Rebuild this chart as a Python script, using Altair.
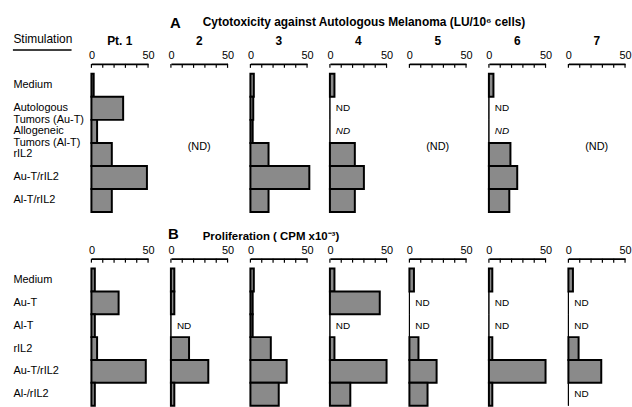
import altair as alt
import pandas as pd

patients = ["Pt. 1", "2", "3", "4", "5", "6", "7"]

# Panel A: cytotoxicity (LU/10^6 cells); None = not done
stim_a = ["Medium", "Autologous|Tumors (Au-T)", "Allogeneic|Tumors (Al-T)",
          "rIL2", "Au-T/rIL2", "Al-T/rIL2"]
cyto_pt1 = [2, 28, 5, 18, 49, 18]
cyto_pt2 = None
cyto_pt3 = [3, 2.5, 2, 16, 52, 16]
cyto_pt4 = [4, None, None, 22, 30, 22]
cyto_pt5 = None
cyto_pt6 = [4, None, None, 19, 25, 18]
cyto_pt7 = None

# Panel B: proliferation (CPM x10^-3)
stim_b = ["Medium", "Au-T", "Al-T", "rIL2", "Au-T/rIL2", "Al-/rIL2"]
prol_pt1 = [3, 24, 3, 5, 48, 3]
prol_pt2 = [3, 3, None, 16, 33, 3]
prol_pt3 = [3, 2, 2, 18, 32, 25]
prol_pt4 = [4, 44, None, 4, 50, 18]
prol_pt5 = [4, None, None, 8, 24, 16]
prol_pt6 = [3, None, None, 3, 50, 3]
prol_pt7 = [4, None, None, 9, 29, None]

axis_labels = [0, 20, 50]
axis_ticks = [0, 10, 20, 30, 40, 50]

title_a_letter = "A"
title_a_text = "Cytotoxicity against Autologous Melanoma (LU/10\u2076 cells)"
title_b_letter = "B"
title_b_text = "Proliferation ( CPM x10\u207b\u00b3)"

FONT = "Liberation Sans"


def build(stims, series, italic_row):
    rows = []
    for pt, vals in zip(patients, series):
        for t in axis_ticks:
            rows.append(dict(pt=pt, stim=stims[0], value=t, status="tick", italic=False))
        for i, s in enumerate(stims):
            if vals is None:
                rows.append(dict(pt=pt, stim=s, value=0, status="allnd", italic=False))
            else:
                v = vals[i]
                rows.append(dict(pt=pt, stim=s, value=0 if v is None else v,
                                 status="nd" if v is None else "ok",
                                 italic=(i == italic_row)))
    return pd.DataFrame(rows)


df_a = build(stim_a, [cyto_pt1, cyto_pt2, cyto_pt3, cyto_pt4, cyto_pt5, cyto_pt6, cyto_pt7], 2)
df_b = build(stim_b, [prol_pt1, prol_pt2, prol_pt3, prol_pt4, prol_pt5, prol_pt6, prol_pt7], -1)

xscale = alt.Scale(domain=[0, 50], nice=False, zero=True)
xaxis = alt.Axis(orient="top", values=axis_labels, title=None, grid=False, ticks=False,
                 labelOverlap=False, labelFontSize=11, labelFont=FONT, labelColor="black",
                 labelPadding=3, domainColor="black", domainWidth=1.6, labelFlush=False)


def panel(stims, ytitle):
    yscale = alt.Scale(domain=stims, paddingInner=0, paddingOuter=0.216, align=1)
    yaxis_kwargs = dict(orient="left", labelAlign="left", labelPadding=79, ticks=False,
                        tickSize=0, domain=False, labelFontSize=11, labelFont=FONT,
                        labelColor="black", labelExpr="split(datum.label, '|')",
                        labelLineHeight=12, labelBaseline="middle")
    if ytitle:
        yaxis = alt.Axis(title=ytitle, titleAngle=0, titleAlign="left", titleX=-79, titleY=-22,
                         titleFontSize=12, titleFontWeight="normal", titleFont=FONT,
                         titleColor="black", titleBaseline="alphabetic", **yaxis_kwargs)
    else:
        yaxis = alt.Axis(title=None, **yaxis_kwargs)
    x = alt.X("value:Q", scale=xscale, axis=xaxis)
    y = alt.Y("stim:N", scale=yscale, axis=yaxis, sort=stims)

    base = alt.Chart().encode(x=x, y=y)
    ticks = alt.Chart().mark_rule(stroke="black", strokeWidth=1.2).encode(
        x=x, y=alt.value(0), y2=alt.value(4)).transform_filter("datum.status == 'tick'")
    bars = base.mark_bar(fill="#8a8a8a", stroke="black", strokeWidth=2).transform_filter(
        "datum.status == 'ok'")
    ndline = base.mark_bar(fill="white", stroke="black", strokeWidth=1).transform_filter(
        "datum.status == 'nd'")
    nd_text = base.mark_text(text="ND", align="left", dx=6, fontSize=10, font=FONT,
                             color="black").transform_filter(
        "datum.status == 'nd' && !datum.italic")
    nd_text_it = base.mark_text(text="ND", align="left", dx=6, fontSize=10, font=FONT,
                                fontStyle="italic", color="black").transform_filter(
        "datum.status == 'nd' && datum.italic")
    all_nd = alt.Chart().mark_text(text="(ND)", fontSize=11, font=FONT, color="black",
                                   dy=-7).encode(
        x=alt.datum(25), y=y).transform_filter(
        "datum.status == 'allnd' && datum.stim == 'rIL2'")
    return [ticks, bars, ndline, nd_text, nd_text_it, all_nd]


def titles(letter, text, y_letter, y_text, letter_dx, size):
    sel = "datum.pt == '2' && datum.stim == 'Medium' && datum.status != 'tick'"
    t1 = alt.Chart().mark_text(text=letter, align="left", baseline="middle", fontSize=15,
                               fontWeight="bold", font=FONT, color="black").encode(
        x=alt.value(letter_dx), y=alt.value(y_letter)).transform_filter(sel)
    t2 = alt.Chart().mark_text(text=text, align="left", baseline="middle", fontSize=size,
                               fontWeight="bold", font=FONT, color="black").encode(
        x=alt.value(32), y=alt.value(y_text)).transform_filter(sel)
    return [t1, t2]


layers_a = panel(stim_a, "Stimulation")
underline = alt.Chart().mark_rule(stroke="black", strokeWidth=1.5).encode(
    x=alt.value(-79), x2=alt.value(-20), y=alt.value(-14)).transform_filter(
    "datum.pt == 'Pt. 1' && datum.stim == 'Medium' && datum.status != 'tick'")
layers_a.append(underline)
layers_a += titles(title_a_letter, title_a_text, -41, -42, -1, 12)

chart_a = alt.layer(*layers_a, data=df_a).properties(width=57, height=149).facet(
    column=alt.Column("pt:N", sort=patients, title=None,
                      header=alt.Header(labelFontSize=12, labelFontWeight="bold", labelFont=FONT,
                                        labelColor="black", labelPadding=2, title=None)),
    spacing=23, bounds="flush")

layers_b = panel(stim_b, None)
layers_b += titles(title_b_letter, title_b_text, -25, -22, -3, 11.5)

chart_b = alt.layer(*layers_b, data=df_b).properties(width=57, height=148).facet(
    column=alt.Column("pt:N", sort=patients, title=None,
                      header=alt.Header(labels=False, title=None)),
    spacing=23, bounds="flush")

chart = alt.vconcat(chart_a, chart_b, spacing=14).properties(
    padding={"left": 12, "top": 15, "right": 0, "bottom": 0}
).configure(font=FONT).configure_view(stroke=None, strokeWidth=0)

chart.save("out.html", embed_options={"renderer": "svg", "actions": False})
